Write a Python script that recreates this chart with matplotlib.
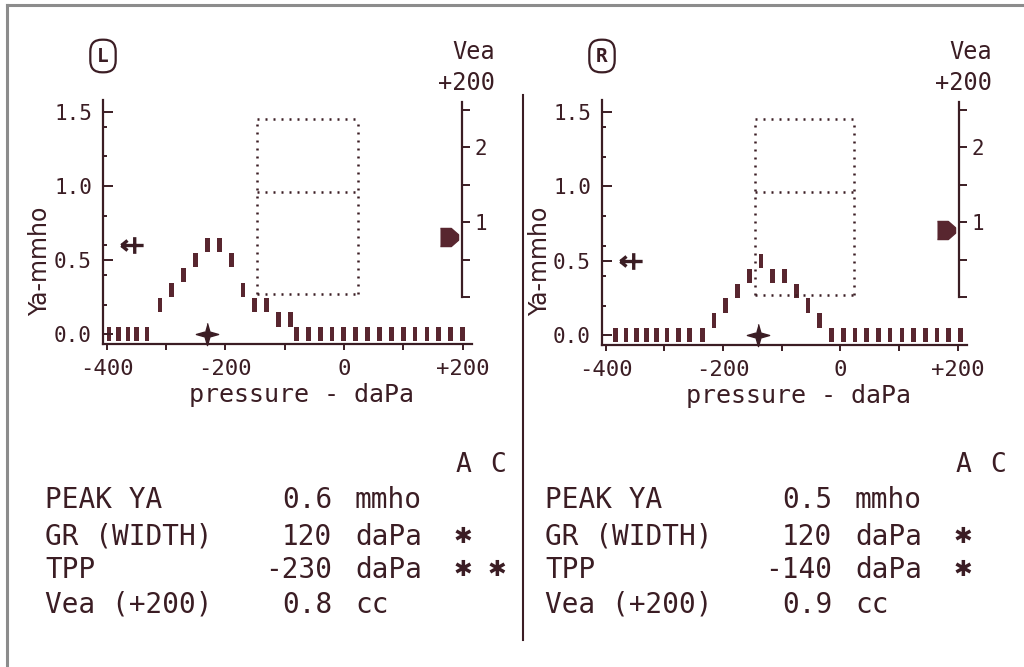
import matplotlib
matplotlib.use("Agg")
import matplotlib.pyplot as plt
from matplotlib.lines import Line2D
from matplotlib.path import Path

W, H = 1024, 667
INK = "#3b1d24"
BAR = "#58262f"
GREY = "#8c8c8c"

plt.rcParams["font.family"] = ["DejaVu Sans Mono", "DejaVu Sans"]

# ---- data ----
x_major = [-400, -200, 0, 200]
x_labels = ["-400", "-200", "0", "+200"]
x_minor = [-300, -100, 100]
y_major = [0.0, 0.5, 1.0, 1.5]
y_labels = ["0.0", "0.5", "1.0", "1.5"]
y_minor = [0.2, 0.4, 0.6, 0.8, 1.2, 1.4]
vea_ticks = [0, 0.5, 1, 1.5, 2, 2.5]
vea_labels = ["", "", "1", "", "2", ""]

# normal range box (pressure daPa, Ya mmho)
box_p = [-146, 24]
box_ya = [0.27, 0.96, 1.45]

# left ear
left_pressure = [-396, -380, -364, -349, -332,
                 -310, -290, -270, -250, -230, -210, -190, -170, -150, -130, -110, -90,
                 -80, -60, -40, -20, 0, 20, 40, 60, 80, 100, 120, 140, 160, 180, 200]
left_ya = [0, 0, 0, 0, 0,
           0.2, 0.3, 0.4, 0.5, 0.6, 0.6, 0.5, 0.3, 0.2, 0.2, 0.1, 0.1,
           0, 0, 0, 0, 0, 0, 0, 0, 0, 0, 0, 0, 0, 0, 0]

# right ear
right_pressure = [-383, -365, -347, -330, -313, -295, -276, -257, -235,
                  -215, -195, -175, -155, -135, -115, -95, -75, -55, -35,
                  -15, 5, 25, 45, 65, 85, 105, 125, 145, 165, 185, 205]
right_ya = [0, 0, 0, 0, 0, 0, 0, 0, 0,
            0.1, 0.2, 0.3, 0.4, 0.5, 0.4, 0.4, 0.3, 0.2, 0.1,
            0, 0, 0, 0, 0, 0, 0, 0, 0, 0, 0, 0]

peak_marker_p = -357
peak_ya = [0.6, 0.5]
tpp = [-230, -140]
vea = [0.8, 0.9]

rows = ["PEAK YA", "GR (WIDTH)", "TPP", "Vea (+200)"]
units = ["mmho", "daPa", "daPa", "cc"]
left_vals = ["0.6", "120", "-230", "0.8"]
right_vals = ["0.5", "120", "-140", "0.9"]
left_flag_a = ["", "✱", "✱", ""]
left_flag_c = ["", "", "✱", ""]
right_flag_a = ["", "✱", "✱", ""]
right_flag_c = ["", "", "", ""]

# ---- marker shapes ----
M, L = Path.MOVETO, Path.LINETO
arrow_plus = Path([(-1, 0), (1, 0), (0.2, -0.75), (0.2, 0.75),
                   (-1, 0), (-0.45, 0.45), (-1, 0), (-0.45, -0.45)],
                  [M, L, M, L, M, L, M, L])
star4 = [(0, 1), (0.22, 0.22), (1, 0), (0.22, -0.22), (0, -1),
         (-0.22, -0.22), (-1, 0), (-0.22, 0.22)]
pointer = [(-1, -1), (0.2, -1), (1, -0.3), (1, 0.3), (0.2, 1), (-1, 1)]

fig = plt.figure(figsize=(W / 100, H / 100), dpi=100)
fig.patch.set_facecolor("white")


def ftext(px, py, s, **kw):
    kw.setdefault("color", INK)
    fig.text(px / W, 1 - py / H, s, **kw)


def panel(x0, x1, yb, yt, vx0, vx1, pressure, ya, pk, tp, ve, ear):
    ax = fig.add_axes([x0 / W, 1 - yb / H, (x1 - x0) / W, (yb - yt) / H])
    ax.set_xlim(-406, 216)
    ax.set_ylim(-0.065, 1.58)
    ax.patch.set_alpha(0)
    for s in ["top", "right"]:
        ax.spines[s].set_visible(False)
    for s in ["left", "bottom"]:
        ax.spines[s].set_color(INK)
        ax.spines[s].set_linewidth(1.6)
    ax.set_xticks(x_major)
    ax.set_xticklabels(x_labels)
    ax.set_xticks(x_minor, minor=True)
    ax.set_yticks(y_major)
    ax.set_yticklabels(y_labels)
    ax.set_yticks(y_minor, minor=True)
    ax.tick_params(axis="x", which="both", direction="out", length=4, width=1.4,
                   color=INK, labelcolor=INK, labelsize=16, pad=7)
    ax.tick_params(axis="y", which="major", direction="in", length=7, width=1.4,
                   color=INK, labelcolor=INK, labelsize=15, pad=8)
    ax.tick_params(axis="y", which="minor", direction="in", length=3, width=1.4,
                   color=INK)

    # tympanogram blocks
    ax.bar(pressure, 0.095, bottom=[v - 0.0475 for v in ya], width=8,
           color=BAR, edgecolor="none")

    # normal range box
    dot = dict(color=INK, lw=1.8, ls=(0, (0.8, 2.4)))
    ax.plot([box_p[0], box_p[0]], [box_ya[0], box_ya[2]], **dot)
    ax.plot([box_p[1], box_p[1]], [box_ya[0], box_ya[2]], **dot)
    for yv in box_ya:
        ax.plot(box_p, [yv, yv], **dot)

    # peak and TPP markers
    ax.plot([peak_marker_p], [pk], marker=arrow_plus, ms=16, mew=2.4,
            color=INK, ls="none", clip_on=False)
    ax.plot([tp], [0.0], marker=star4, ms=16, color=INK, ls="none", clip_on=False)

    ax.set_ylabel("Ya-mmho", fontsize=17, color=INK, family=["DejaVu Sans"])
    ax.yaxis.set_label_coords(-0.137, 0.34)
    ax.text(0.539, -0.209, "pressure - daPa", transform=ax.transAxes,
            ha="center", va="center", fontsize=18, color=INK)

    # Vea scale
    vx = fig.add_axes([vx0 / W, 1 - 297 / H, (vx1 - vx0) / W, (297 - 102) / H])
    vx.set_xlim(0, 1)
    vx.set_ylim(0, 2.6)
    vx.patch.set_alpha(0)
    for s in ["top", "left", "bottom"]:
        vx.spines[s].set_visible(False)
    vx.spines["right"].set_color(INK)
    vx.spines["right"].set_linewidth(1.6)
    vx.set_xticks([])
    vx.yaxis.tick_right()
    vx.set_yticks(vea_ticks)
    vx.set_yticklabels(vea_labels)
    vx.tick_params(axis="y", direction="out", length=6, width=1.4, color=INK,
                   labelcolor=INK, labelsize=15, pad=3)
    vx.plot([0.55], [ve], marker=pointer, ms=13, color=BAR, ls="none", clip_on=False)

    ftext(vx1 + 33, 52, "Vea", ha="right", va="center", fontsize=17)
    ftext(vx1 + 33, 83, "+200", ha="right", va="center", fontsize=17)
    ftext(x0, 56, ear, ha="center", va="center", fontsize=14, weight="bold",
          bbox=dict(boxstyle="round,pad=0.35,rounding_size=0.6", fc="white",
                    ec=INK, lw=1.6))


panel(103, 472, 344, 100, 432, 462, left_pressure, left_ya,
      peak_ya[0], tpp[0], vea[0], "L")
panel(602, 967, 345, 100, 929, 959, right_pressure, right_ya,
      peak_ya[1], tpp[1], vea[1], "R")

# ---- result tables ----
row_y = [500, 537, 570, 605]
for dx, vals, fa, fc in [(0, left_vals, left_flag_a, left_flag_c),
                         (500, right_vals, right_flag_a, right_flag_c)]:
    ftext(463 + dx, 465, "A", ha="center", va="center", fontsize=19)
    ftext(498 + dx, 465, "C", ha="center", va="center", fontsize=19)
    for i, yy in enumerate(row_y):
        ftext(45 + dx, yy, rows[i], ha="left", va="center", fontsize=20)
        ftext(332 + dx, yy, vals[i], ha="right", va="center", fontsize=20)
        ftext(355 + dx, yy, units[i], ha="left", va="center", fontsize=20)
        ftext(463 + dx, yy, fa[i], ha="center", va="center", fontsize=16,
              family=["DejaVu Sans"])
        ftext(497 + dx, yy, fc[i], ha="center", va="center", fontsize=16,
              family=["DejaVu Sans"])

# divider and scan frame
fig.add_artist(Line2D([523 / W, 523 / W], [1 - 95 / H, 1 - 640 / H],
                      color=INK, lw=1.5))
fig.add_artist(Line2D([7 / W, 7 / W], [0, 1 - 5 / H], color=GREY, lw=2.2))
fig.add_artist(Line2D([7 / W, 1], [1 - 5 / H, 1 - 5 / H], color=GREY, lw=2.2))

fig.savefig("out.png", dpi=100, facecolor="white")
